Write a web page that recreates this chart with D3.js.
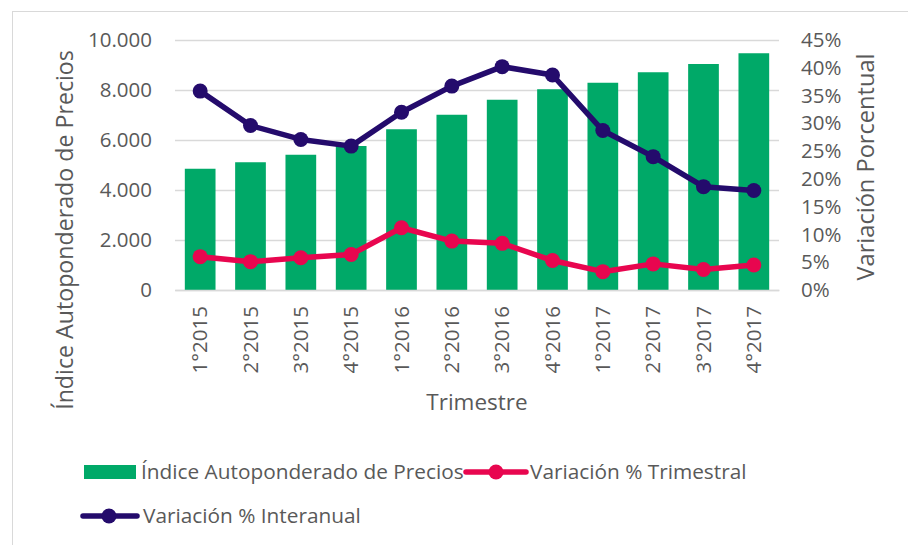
<!DOCTYPE html>
<html>
<head>
<meta charset="utf-8">
<script src="https://cdn.jsdelivr.net/npm/d3@7"></script>
<style>
  body { margin: 0; background: #fff; }
  text { font-family: "Open Sans", sans-serif; fill: #595959; }
</style>
</head>
<body>
<script>
// data
var quarters = ["1°2015", "2°2015", "3°2015", "4°2015", "1°2016", "2°2016",
                "3°2016", "4°2016", "1°2017", "2°2017", "3°2017", "4°2017"];
var indexValues = [4850, 5110, 5410, 5760, 6430, 7010, 7610, 8030, 8290, 8710, 9040, 9470];
var quarterlyPct = [6.0, 5.1, 5.8, 6.4, 11.2, 8.8, 8.4, 5.3, 3.3, 4.7, 3.7, 4.5];
var yearlyPct = [35.8, 29.6, 27.1, 25.9, 32.0, 36.7, 40.2, 38.7, 28.7, 24.0, 18.6, 17.9];
var leftTicks = [0, 2000, 4000, 6000, 8000, 10000];
var rightTicks = [0, 5, 10, 15, 20, 25, 30, 35, 40, 45];

var green = "#00a968", pink = "#e8064f", navy = "#240b6c", grid = "#d9d9d9";

var W = 908, H = 545;
var plot = { left: 175, right: 779, top: 40, bottom: 290 };

var svg = d3.select("body").append("svg")
  .attr("width", W)
  .attr("height", H);

// outer chart border (runs off the right / bottom edge)
svg.append("rect")
  .attr("x", 12.5).attr("y", 11.5)
  .attr("width", 940).attr("height", 580)
  .attr("fill", "#fff")
  .attr("stroke", grid);

// scales
var x = d3.scaleBand().domain(quarters).range([plot.left, plot.right]).paddingInner(0.39).paddingOuter(0.195);
var xc = d3.scaleBand().domain(quarters).range([plot.left, plot.right]);
var yL = d3.scaleLinear().domain([0, 10000]).range([plot.bottom, plot.top]);
var yR = d3.scaleLinear().domain([0, 45]).range([plot.bottom, plot.top]);

// gridlines
svg.append("g")
  .selectAll("line")
  .data(leftTicks)
  .enter().append("line")
  .attr("x1", plot.left).attr("x2", plot.right)
  .attr("y1", function(d) { return Math.round(yL(d)) + 0.5; })
  .attr("y2", function(d) { return Math.round(yL(d)) + 0.5; })
  .attr("stroke", grid)
  .attr("stroke-width", 1.5);

// left axis
var fmt = function(d) { return d3.format(",")(d).replace(/,/g, "."); };
var gL = svg.append("g")
  .attr("transform", "translate(" + plot.left + ",0)")
  .call(d3.axisLeft(yL).tickValues(leftTicks).tickSize(0).tickPadding(23).tickFormat(fmt));
gL.select(".domain").remove();
gL.selectAll("text").style("font-size", "20.5px").attr("fill", "#595959");

// right axis
var gR = svg.append("g")
  .attr("transform", "translate(" + plot.right + ",0)")
  .call(d3.axisRight(yR).tickValues(rightTicks).tickSize(0).tickPadding(22).tickFormat(function(d) { return d + "%"; }));
gR.select(".domain").remove();
gR.selectAll("text").style("font-size", "20.5px").attr("fill", "#595959");

// bars
svg.append("g")
  .selectAll("rect")
  .data(indexValues)
  .enter().append("rect")
  .attr("x", function(d, i) { return x(quarters[i]); })
  .attr("width", x.bandwidth())
  .attr("y", function(d) { return yL(d); })
  .attr("height", function(d) { return plot.bottom - yL(d); })
  .attr("fill", green);

// x axis
var gX = svg.append("g")
  .attr("transform", "translate(0," + plot.bottom + ")")
  .call(d3.axisBottom(xc).tickSize(0).tickPadding(0));
gX.select(".domain").attr("stroke", grid).attr("stroke-width", 1.5);
gX.selectAll("text")
  .style("font-size", "20.5px")
  .attr("fill", "#595959")
  .attr("text-anchor", "end")
  .attr("transform", "rotate(-90)")
  .attr("x", -16)
  .attr("y", 0)
  .attr("dy", "0.35em");

// lines
function drawSeries(values, color) {
  var line = d3.line()
    .x(function(d, i) { return xc(quarters[i]) + xc.bandwidth() / 2; })
    .y(function(d) { return yR(d); });
  svg.append("path")
    .datum(values)
    .attr("d", line)
    .attr("fill", "none")
    .attr("stroke", color)
    .attr("stroke-width", 5.5)
    .attr("stroke-linejoin", "round");
  svg.append("g")
    .selectAll("circle")
    .data(values)
    .enter().append("circle")
    .attr("cx", function(d, i) { return xc(quarters[i]) + xc.bandwidth() / 2; })
    .attr("cy", function(d) { return yR(d); })
    .attr("r", 7.5)
    .attr("fill", color);
}
drawSeries(quarterlyPct, pink);
drawSeries(yearlyPct, navy);

// axis titles
svg.append("text")
  .attr("transform", "translate(73,230) rotate(-90)")
  .attr("text-anchor", "middle")
  .style("font-size", "23.2px")
  .text("Índice Autoponderado de Precios");

svg.append("text")
  .attr("transform", "translate(874,167) rotate(-90)")
  .attr("text-anchor", "middle")
  .style("font-size", "23.6px")
  .text("Variación Porcentual");

svg.append("text")
  .attr("x", 477).attr("y", 410)
  .attr("text-anchor", "middle")
  .style("font-size", "22.5px")
  .text("Trimestre");

// legend
var lg = svg.append("g");
lg.append("rect").attr("x", 84).attr("y", 465).attr("width", 52).attr("height", 14).attr("fill", green);
lg.append("text").attr("x", 141).attr("y", 479).style("font-size", "20.8px").text("Índice Autoponderado de Precios");

lg.append("line").attr("x1", 466).attr("x2", 526).attr("y1", 472).attr("y2", 472).attr("stroke", pink).attr("stroke-width", 5.5).attr("stroke-linecap", "round");
lg.append("circle").attr("cx", 496).attr("cy", 472).attr("r", 7.5).attr("fill", pink);
lg.append("text").attr("x", 530).attr("y", 479).style("font-size", "20.8px").text("Variación % Trimestral");

lg.append("line").attr("x1", 83).attr("x2", 137).attr("y1", 516).attr("y2", 516).attr("stroke", navy).attr("stroke-width", 5.5).attr("stroke-linecap", "round");
lg.append("circle").attr("cx", 109).attr("cy", 516).attr("r", 7.5).attr("fill", navy);
lg.append("text").attr("x", 143).attr("y", 523).style("font-size", "20.8px").text("Variación % Interanual");
</script>
</body>
</html>
